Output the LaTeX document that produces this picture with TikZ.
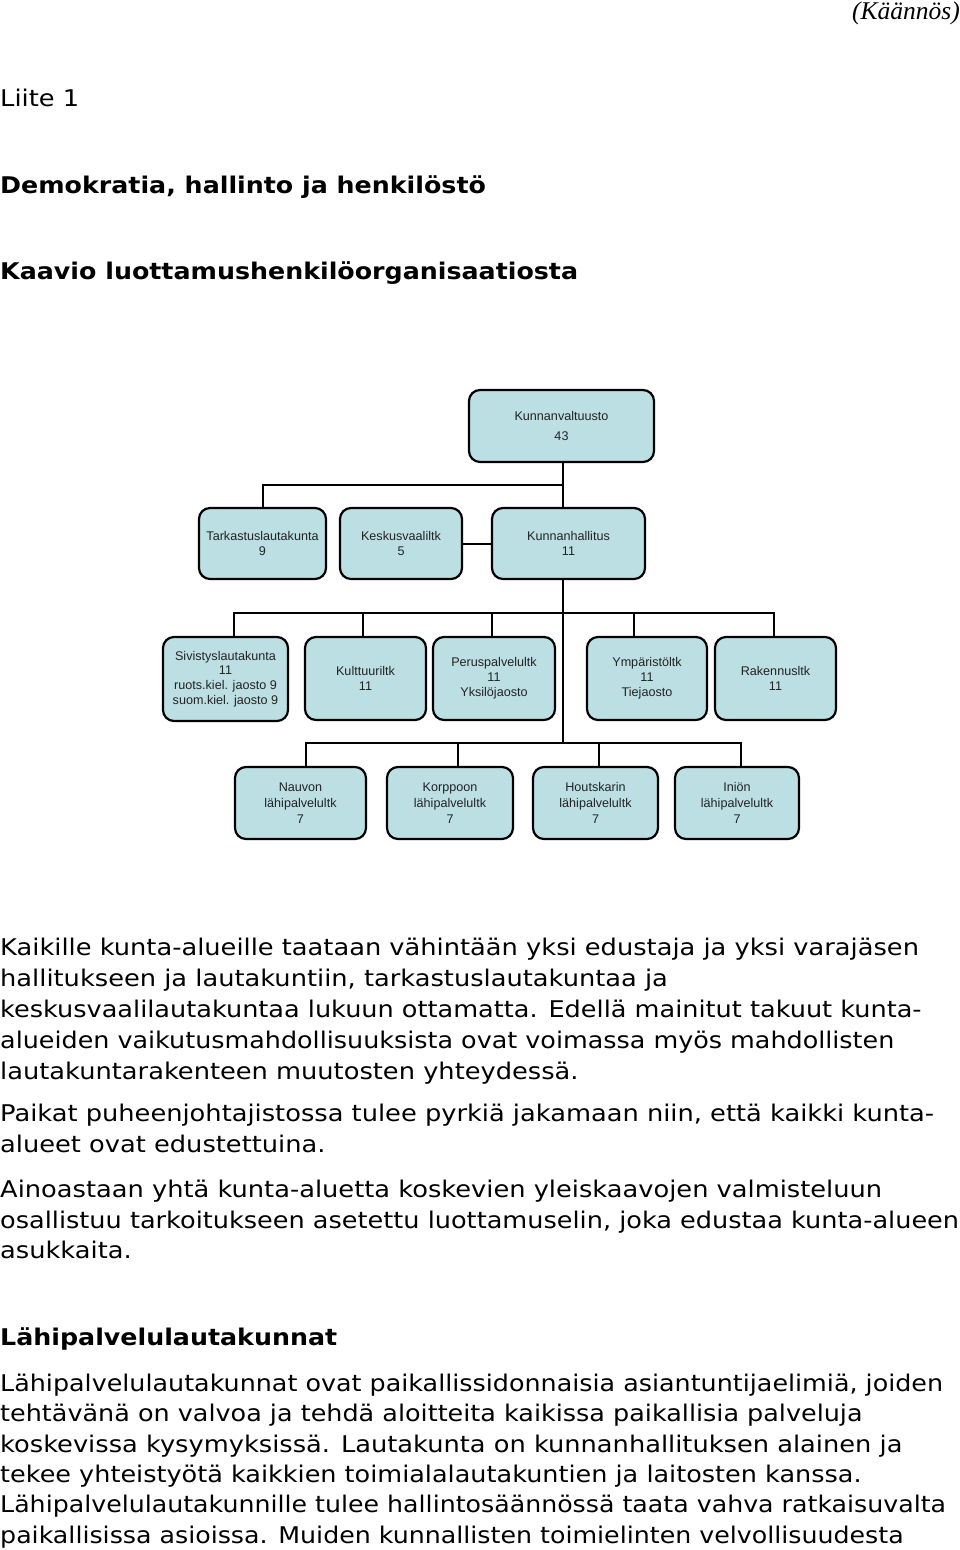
\documentclass[tikz,border=0pt]{standalone}
\usepackage{fontspec}
\setmainfont{DejaVu Sans}
\newfontfamily\bodyfont{DejaVu Sans}[FakeStretch=1.117]
\newfontfamily\headfont{DejaVu Sans}[FakeStretch=1.1]
\newfontfamily\chartfont{Liberation Sans}
\newfontfamily\serifit{Liberation Serif}
\definecolor{boxfill}{RGB}{188,223,227}
\definecolor{boxtext}{RGB}{35,35,35}
\begin{document}
\begin{tikzpicture}[x=1pt,y=-1pt]
\tikzset{
  orgbox/.style={draw=black, line width=2.2pt, rounded corners=11pt, fill=boxfill,
    inner sep=0pt, align=center, text=boxtext,
    font=\chartfont\fontsize{12.6}{14.8}\selectfont},
  link/.style={draw=black, line width=2pt},
  bodyline/.style={anchor=base west, inner sep=0pt, font=\bodyfont\fontsize{23}{31}\selectfont},
  headline/.style={anchor=base west, inner sep=0pt, font=\headfont\bfseries\fontsize{23}{31}\selectfont},
  lowbox/.style={orgbox, minimum height=72pt, font=\chartfont\fontsize{12.6}{16}\selectfont},
}
\useasboundingbox (0,0) rectangle (960,1550);
\fill[white] (0,0) rectangle (960,1550);

% header
\node[anchor=base east, inner sep=0pt, font=\serifit\itshape\fontsize{25.5}{28}\selectfont] (kaan) at (960,19) {(Käännös)};
\node[bodyline] (liite) at (0,106) {Liite 1};
\node[headline] (h1) at (0,193) {Demokratia, hallinto ja henkilöstö};
\node[headline] (h2) at (0,279) {Kaavio luottamushenkilöorganisaatiosta};

% chart boxes
\node[orgbox, minimum width=185pt, minimum height=72pt] (kv) at (561.5,426) {Kunnanvaltuusto\\[5pt]43};
\node[orgbox, minimum width=127pt, minimum height=71pt] (tl) at (262.5,543.5) {Tarkastuslautakunta\\9};
\node[orgbox, minimum width=122pt, minimum height=71pt] (kk) at (401,543.5) {Keskusvaaliltk\\5};
\node[orgbox, minimum width=153pt, minimum height=71pt] (kh) at (568.5,543.5) {Kunnanhallitus\\11};

\node[orgbox, minimum width=125pt, minimum height=84pt] (sv) at (225.5,679) {Sivistyslautakunta\\11\\ruots.kiel. jaosto 9\\suom.kiel. jaosto 9};
\node[orgbox, minimum width=121pt, minimum height=83pt] (kt) at (365.5,678.5) {Kulttuuriltk\\11};
\node[orgbox, minimum width=122pt, minimum height=83pt] (pp) at (494,678.5) {Peruspalvelultk\\11\\Yksilöjaosto};
\node[orgbox, minimum width=120pt, minimum height=83pt] (ym) at (647,678.5) {Ympäristöltk\\11\\Tiejaosto};
\node[orgbox, minimum width=121pt, minimum height=83pt] (rk) at (775.5,678.5) {Rakennusltk\\11};

\node[lowbox, minimum width=131pt] (na) at (300.5,803) {Nauvon\\lähipalvelultk\\7};
\node[lowbox, minimum width=126pt] (ko) at (450,803) {Korppoon\\lähipalvelultk\\7};
\node[lowbox, minimum width=125pt] (ho) at (595.5,803) {Houtskarin\\lähipalvelultk\\7};
\node[lowbox, minimum width=124pt] (in) at (737,803) {Iniön\\lähipalvelultk\\7};

% connectors
\coordinate (b1) at (563,485);
\coordinate (b2) at (563,613);
\coordinate (b3) at (563,743);
\draw[link] (kv.south -| b1) -- (kh.north -| b1);
\draw[link] (b1) -| (tl.north);
\draw[link] (kk.east) -- (kh.west);
\draw[link] (kh.south -| b2) -- (b3);
\draw[link] ([xshift=8.5pt]sv.north) |- (b2) -| ([xshift=-1.5pt]rk.north);
\draw[link] ([xshift=-2.5pt]kt.north) |- (b2);
\draw[link] ([xshift=-2pt]pp.north) |- (b2);
\draw[link] ([xshift=-13pt]ym.north) |- (b2);
\draw[link] ([xshift=5.5pt]na.north) |- (b3) -| ([xshift=4pt]in.north);
\draw[link] ([xshift=8pt]ko.north) |- (b3);
\draw[link] ([xshift=3.5pt]ho.north) |- (b3);

% body text
\node[bodyline] (p1a) at (0,955) {Kaikille kunta-alueille taataan vähintään yksi edustaja ja yksi varajäsen};
\node[bodyline] (p1b) at (0,986) {hallitukseen ja lautakuntiin, tarkastuslautakuntaa ja};
\node[bodyline] (p1c) at (0,1017) {\scalebox{0.995}[1]{keskusvaalilautakuntaa lukuun ottamatta. Edellä mainitut takuut kunta-}};
\node[bodyline] (p1d) at (0,1048) {\scalebox{0.989}[1]{alueiden vaikutusmahdollisuuksista ovat voimassa myös mahdollisten}};
\node[bodyline] (p1e) at (0,1079) {lautakuntarakenteen muutosten yhteydessä.};
\node[bodyline] (p2a) at (0,1121) {Paikat puheenjohtajistossa tulee pyrkiä jakamaan niin, että kaikki kunta-};
\node[bodyline] (p2b) at (0,1152) {alueet ovat edustettuina.};
\node[bodyline] (p3a) at (0,1197) {Ainoastaan yhtä kunta-aluetta koskevien yleiskaavojen valmisteluun};
\node[bodyline] (p3b) at (0,1228) {\scalebox{0.995}[1]{osallistuu tarkoitukseen asetettu luottamuselin, joka edustaa kunta-alueen}};
\node[bodyline] (p3c) at (0,1258) {asukkaita.};
\node[headline] (h3) at (0,1345) {Lähipalvelulautakunnat};
\node[bodyline] (p4a) at (0,1391) {\scalebox{0.988}[1]{Lähipalvelulautakunnat ovat paikallissidonnaisia asiantuntijaelimiä, joiden}};
\node[bodyline] (p4b) at (0,1421.5) {\scalebox{0.991}[1]{tehtävänä on valvoa ja tehdä aloitteita kaikissa paikallisia palveluja}};
\node[bodyline] (p4c) at (0,1452) {koskevissa kysymyksissä. Lautakunta on kunnanhallituksen alainen ja};
\node[bodyline] (p4d) at (0,1482) {\scalebox{0.993}[1]{tekee yhteistyötä kaikkien toimialalautakuntien ja laitosten kanssa.}};
\node[bodyline] (p4e) at (0,1512.5) {\scalebox{0.983}[1]{Lähipalvelulautakunnille tulee hallintosäännössä taata vahva ratkaisuvalta}};
\node[bodyline] (p4f) at (0,1543) {\scalebox{0.984}[1]{paikallisissa asioissa. Muiden kunnallisten toimielinten velvollisuudesta}};
\end{tikzpicture}
\end{document}
